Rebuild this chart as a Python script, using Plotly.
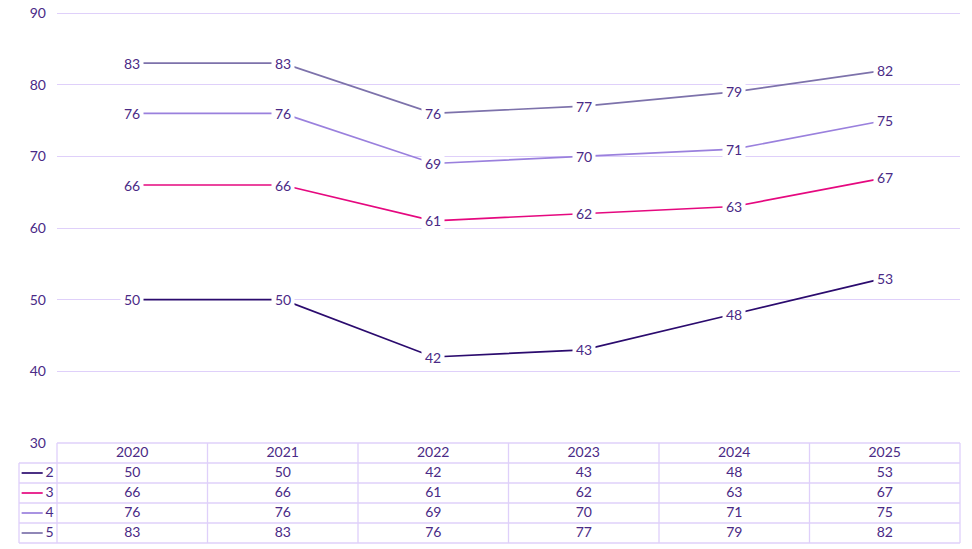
import plotly.graph_objects as go

# data
years = ['2020', '2021', '2022', '2023', '2024', '2025']
series_names = ['2', '3', '4', '5']
values_2 = [50, 50, 42, 43, 48, 53]
values_3 = [66, 66, 61, 62, 63, 67]
values_4 = [76, 76, 69, 70, 71, 75]
values_5 = [83, 83, 76, 77, 79, 82]
y_ticks = [30, 40, 50, 60, 70, 80, 90]

series_values = [values_2, values_3, values_4, values_5]
colors = ['#2b0b6e', '#e5087f', '#9a80dd', '#7d72ab']
text_color = '#4a2a86'
grid_color = '#dfd0fa'
font_family = 'Lato'
font_size = 14

x_idx = list(range(len(years)))
n = len(years)

fig = go.Figure()

# main line chart
for name, vals, col in zip(series_names, series_values, colors):
    fig.add_trace(go.Scatter(x=x_idx, y=vals, mode='lines', name=name,
                             line=dict(color=col, width=1.7),
                             showlegend=False, hoverinfo='skip'))
    for i, v in enumerate(vals):
        fig.add_annotation(x=i, y=v, xref='x', yref='y', text=str(v), showarrow=False,
                           bgcolor='white', borderpad=3,
                           font=dict(family=font_family, size=font_size, color=text_color))

# data table underneath, drawn on its own axes (row 0 = header)
fig.add_trace(go.Scatter(x=x_idx, y=[0] * n, mode='text', text=years, xaxis='x2', yaxis='y2',
                         textfont=dict(family=font_family, size=font_size, color=text_color),
                         showlegend=False, hoverinfo='skip'))

key_x0, key_x1, key_tx = -0.735, -0.595, -0.55
for r, (name, vals, col) in enumerate(zip(series_names, series_values, colors), start=1):
    fig.add_trace(go.Scatter(x=x_idx, y=[r] * n, mode='text', text=[str(v) for v in vals],
                             xaxis='x2', yaxis='y2',
                             textfont=dict(family=font_family, size=font_size, color=text_color),
                             showlegend=False, hoverinfo='skip'))
    fig.add_trace(go.Scatter(x=[key_x0, key_x1], y=[r, r], mode='lines', xaxis='x2', yaxis='y2',
                             line=dict(color=col, width=1.7), showlegend=False, hoverinfo='skip'))
    fig.add_trace(go.Scatter(x=[key_tx], y=[r], mode='text', text=[name], xaxis='x2', yaxis='y2',
                             textfont=dict(family=font_family, size=font_size, color=text_color),
                             showlegend=False, hoverinfo='skip'))

left_edge = -0.5 - 38 / 150.5
n_rows = len(series_names) + 1
line_style = dict(color=grid_color, width=1.3)
# horizontal borders
fig.add_shape(type='line', xref='x2', yref='y2', x0=-0.5, x1=n - 0.5, y0=-0.5, y1=-0.5, line=line_style)
for r in range(1, n_rows + 1):
    fig.add_shape(type='line', xref='x2', yref='y2', x0=left_edge, x1=n - 0.5,
                  y0=r - 0.5, y1=r - 0.5, line=line_style)
# vertical borders
for c in range(n + 1):
    fig.add_shape(type='line', xref='x2', yref='y2', x0=c - 0.5, x1=c - 0.5,
                  y0=-0.5, y1=n_rows - 0.5, line=line_style)
fig.add_shape(type='line', xref='x2', yref='y2', x0=left_edge, x1=left_edge,
              y0=0.5, y1=n_rows - 0.5, line=line_style)

W, H = 972, 549
px_per_unit = 430 / 60  # y axis: 30..90 spans pixel 443..13
pad_px = 4  # headroom so plotly keeps the 90 gridline
ml, mr, mt, mb = 17, 10, 13 - pad_px, 4
pw, ph = W - ml - mr, H - mt - mb
bottom = H - mb

fig.update_layout(
    width=W, height=H,
    margin=dict(l=ml, r=mr, t=mt, b=mb, autoexpand=False),
    paper_bgcolor='white', plot_bgcolor='rgba(0,0,0,0)',
    font=dict(family=font_family, size=font_size, color=text_color),
    xaxis=dict(domain=[(57 - ml) / pw, (960 - ml) / pw], range=[-0.5, n - 0.5],
               showgrid=False, zeroline=False, showticklabels=False, fixedrange=True,
               automargin=False),
    yaxis=dict(domain=[(bottom - 443) / ph, 1], range=[30, 90 + pad_px / px_per_unit],
               tickvals=y_ticks,
               showgrid=True, gridcolor=grid_color, gridwidth=1.3, zeroline=False,
               ticks='', ticklabelstandoff=10, automargin=False, ticklabeloverflow='allow',
               tickfont=dict(family=font_family, size=font_size, color=text_color)),
    xaxis2=dict(domain=[0, 1], range=[left_edge - 2 / 150.5, n - 0.5 + 2 / 150.5],
                anchor='y2', showgrid=False, zeroline=False, showticklabels=False, visible=False),
    yaxis2=dict(domain=[0, (bottom - 441) / ph], range=[n_rows - 0.5 + 0.1, -0.6],
                anchor='x2', showgrid=False, zeroline=False, showticklabels=False, visible=False),
)

# drop the default page margin so the figure sits at the window's top-left corner
fig.write_html("out.html", config={'displayModeBar': False},
               post_script="document.body.style.margin='0';")
